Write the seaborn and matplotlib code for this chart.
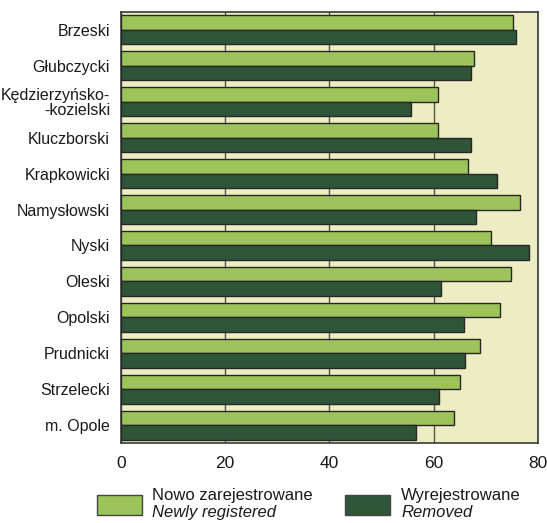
import matplotlib
matplotlib.use("Agg")
import matplotlib.pyplot as plt
from matplotlib.patches import Rectangle
import seaborn as sns
import pandas as pd

# Powiaty (districts) of the Opolskie voivodeship
districts = [
    "Brzeski", "Głubczycki", "Kędzierzyńsko-\n-kozielski", "Kluczborski",
    "Krapkowicki", "Namysłowski", "Nyski", "Oleski", "Opolski",
    "Prudnicki", "Strzelecki", "m. Opole",
]
newly_registered = [75.2, 67.8, 60.9, 60.9, 66.7, 76.6, 71.0, 74.9, 72.8, 69.0, 65.1, 64.0]
removed = [75.8, 67.1, 55.7, 67.2, 72.1, 68.2, 78.3, 61.4, 65.9, 66.0, 61.1, 56.7]
series_pl = ["Nowo zarejestrowane", "Wyrejestrowane"]
series_en = ["Newly registered", "Removed"]
x_ticks = [0, 20, 40, 60, 80]

LIGHT = "#9dc45a"
DARK = "#2f5539"
BG = "#ededc3"
EDGE = "#262626"

FONT = ["Liberation Sans", "DejaVu Sans"]

df = pd.DataFrame({
    "district": districts * 2,
    "value": newly_registered + removed,
    "series": [series_pl[0]] * len(districts) + [series_pl[1]] * len(districts),
})

sns.set_theme(style="white")
plt.rcParams["font.family"] = FONT

fig = plt.figure(figsize=(5.47, 5.23), dpi=100)
ax = fig.add_axes([0.2212, 0.1524, 0.983 - 0.2212, 0.9776 - 0.1524])
ax.set_facecolor(BG)

sns.barplot(
    data=df, y="district", x="value", hue="series", orient="h",
    palette=[LIGHT, DARK], saturation=1, width=0.8, edgecolor=EDGE,
    linewidth=1.0, legend=False, ax=ax, zorder=3,
)

ax.set_xlim(0, 80)
ax.set_ylim(len(districts) - 0.5, -0.5)
ax.set_xticks(x_ticks)
ax.set_xticklabels([str(t) for t in x_ticks])
ax.grid(axis="x", color="#55554a", linewidth=1.0, zorder=1)
ax.grid(axis="y", visible=False)
ax.set_axisbelow(True)
ax.set_xlabel("")
ax.set_ylabel("")

for lbl in ax.get_yticklabels():
    lbl.set_multialignment("right")
    lbl.set_linespacing(1.0)

ax.tick_params(axis="y", length=0, pad=8, labelsize=11.5, labelcolor="#1a1a1a")
ax.tick_params(axis="x", length=0, pad=9, labelsize=12.5, labelcolor="#1a1a1a")

for sp in ax.spines.values():
    sp.set_visible(True)
    sp.set_color("#3a3a3a")
    sp.set_linewidth(1.2)

# Legend: coloured swatch plus Polish label with English translation below
W, H = 547.0, 523.0
legend_items = [
    (96.7, 151.7, LIGHT, series_pl[0], series_en[0]),
    (345.0, 401.0, DARK, series_pl[1], series_en[1]),
]
for x0, tx, color, pl, en in legend_items:
    fig.add_artist(Rectangle(
        (x0 / W, 1 - 515 / H), 45 / W, 20 / H,
        transform=fig.transFigure, facecolor=color, edgecolor="#444444",
        linewidth=1.0,
    ))
    fig.text(tx / W, 1 - 500 / H, pl, fontsize=12, color="#1a1a1a",
             ha="left", va="baseline")
    fig.text(tx / W, 1 - 517 / H, en, fontsize=12, style="italic",
             color="#1a1a1a", ha="left", va="baseline")

fig.savefig("out.png", dpi=100, facecolor="white")
